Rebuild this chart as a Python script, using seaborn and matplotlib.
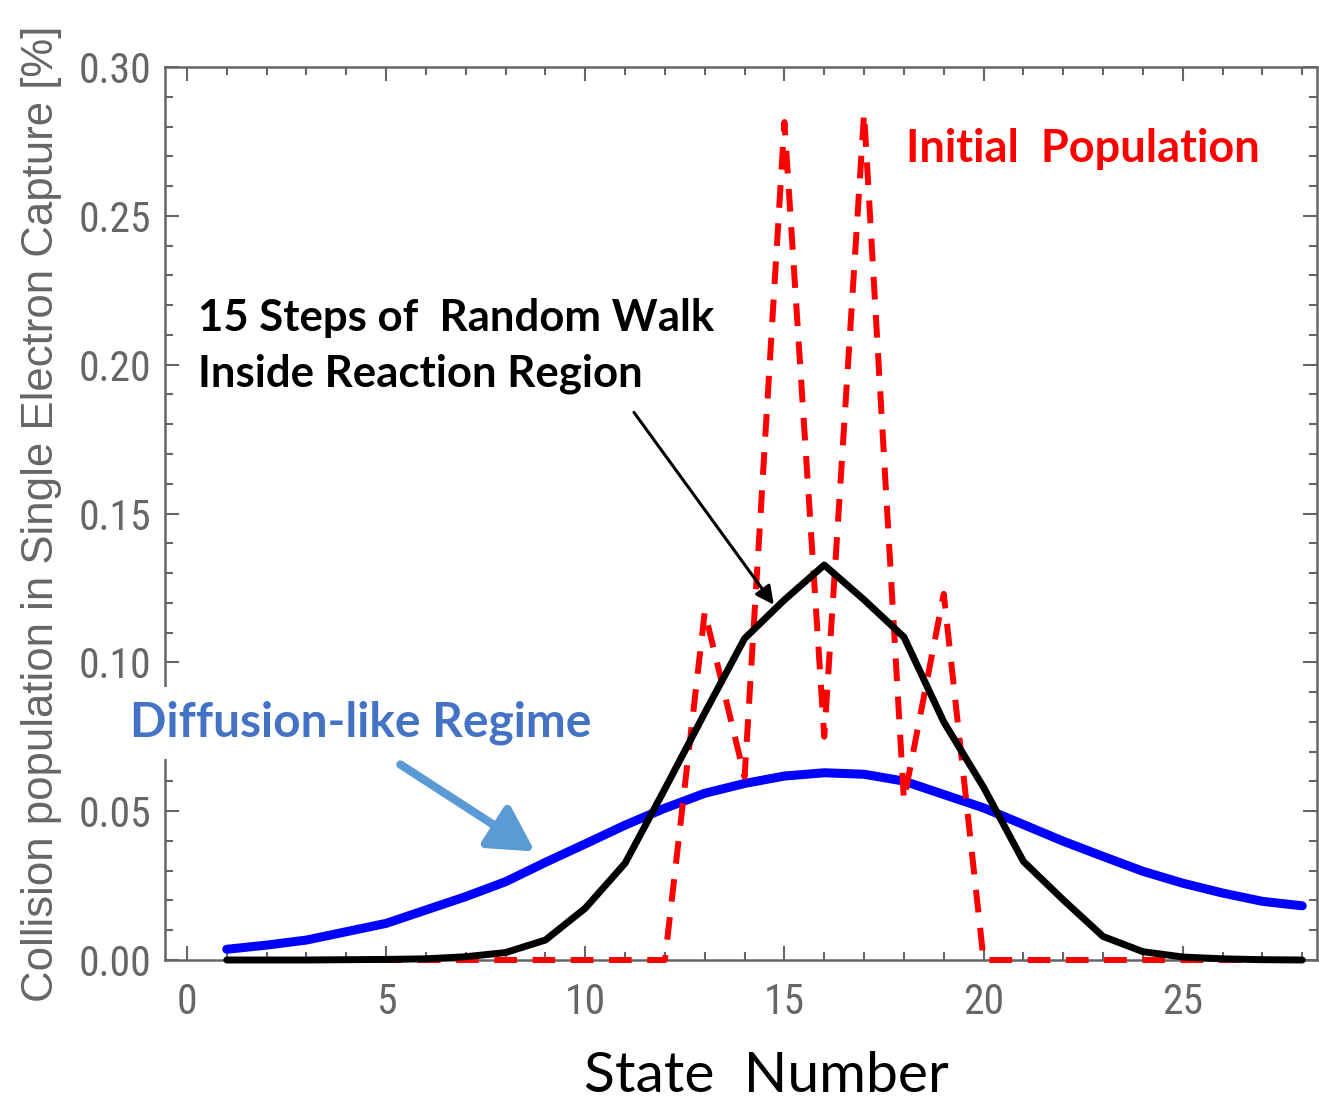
import numpy as np
import pandas as pd
import seaborn as sns
import matplotlib
matplotlib.use("Agg")
import matplotlib.pyplot as plt
from matplotlib import font_manager
from matplotlib.ticker import MultipleLocator

# ---------------- data ----------------
states = list(range(1, 29))
random_walk = [0.0, 0.0, 0.0, 0.0001, 0.0002, 0.0004, 0.0011, 0.0025, 0.0067, 0.0174,
               0.0325, 0.0575, 0.083, 0.108, 0.121, 0.1327, 0.121, 0.1085, 0.080, 0.058,
               0.0331, 0.0202, 0.0079, 0.0028, 0.001, 0.0004, 0.0001, 0.0]
initial_pop = [0, 0, 0, 0, 0, 0, 0, 0, 0, 0,
               0, 0, 0.117, 0.0615, 0.2815, 0.075, 0.2845, 0.0537, 0.123, 0,
               0, 0, 0, 0, 0, 0, 0, 0]
diffusion = [0.0036, 0.005, 0.0067, 0.0095, 0.0123, 0.0168, 0.0213, 0.0263, 0.0328, 0.039,
             0.0453, 0.051, 0.056, 0.0593, 0.0618, 0.0629, 0.0624, 0.0601, 0.0556, 0.0511,
             0.0455, 0.0399, 0.0348, 0.0298, 0.0258, 0.0225, 0.0197, 0.0182]
x_ticks = [0, 5, 10, 15, 20, 25]
y_ticks = [0.00, 0.05, 0.10, 0.15, 0.20, 0.25, 0.30]

df = pd.DataFrame({"state": states, "walk": random_walk,
                   "initial": initial_pop, "diff": diffusion})

# ---------------- style ----------------
sns.set_style("ticks")
names = {f.name for f in font_manager.fontManager.ttflist}
tick_font = "Liberation Sans"
for cand in ["Liberation Sans Narrow", "DejaVu Sans Condensed", "Roboto Condensed",
             "Open Sans Condensed"]:
    if cand in names:
        tick_font = cand
        break
plt.rcParams["font.family"] = ["Liberation Sans", "DejaVu Sans"]
gray = "#666666"

W, H = 1319, 1103
fig = plt.figure(figsize=(W / 100, H / 100), dpi=100)
L, R, T, B = 165, 1317, 67, 960
ax = fig.add_axes([L / W, 1 - B / H, (R - L) / W, (B - T) / H])

sns.lineplot(data=df, x="state", y="diff", ax=ax, color="#0000ff", lw=6.5,
             zorder=2, clip_on=False)
sns.lineplot(data=df, x="state", y="initial", ax=ax, color="#ff0000", lw=4.3,
             dashes=False, zorder=3, clip_on=False)
ax.lines[-1].set_linestyle((0, (3.8, 2.6)))
sns.lineplot(data=df, x="state", y="walk", ax=ax, color="black", lw=5.0,
             zorder=4, clip_on=False)

ax.set_xlim(-0.55, 28.37)
ax.set_ylim(0, 0.30)
ax.set_xticks(x_ticks)
ax.set_yticks(y_ticks)
ax.set_yticklabels([f"{v:.2f}" for v in y_ticks])
ax.xaxis.set_minor_locator(MultipleLocator(1))
ax.yaxis.set_minor_locator(MultipleLocator(0.01))
ax.tick_params(which="both", direction="in", top=True, right=True, color=gray,
               width=1.5, labelcolor=gray, labelsize=30)
ax.tick_params(axis="x", pad=16)
ax.tick_params(axis="y", pad=10)
ax.tick_params(which="major", length=10)
ax.tick_params(which="minor", length=6)
for lab in ax.get_xticklabels() + ax.get_yticklabels():
    lab.set_fontfamily(tick_font)
    if tick_font == "Liberation Sans":
        lab.set_fontstretch("condensed")
for s in ax.spines.values():
    s.set_color(gray)
    s.set_linewidth(1.8)

ax.set_xlabel("State  Number", fontsize=41, color="black", family="Lato", va="center")
ax.xaxis.set_label_coords(0.522, -0.13)
ax.set_ylabel("Collision population in Single Electron Capture [%]", fontsize=31.5,
              color=gray, labelpad=12)


def px2data(px, py):
    return ((px - 187) / 39.8, (960 - py) / 2977.0)


# annotations
ax.text(*px2data(198, 318), "15 Steps of  Random Walk", fontsize=31.5, weight="bold",
        family="Lato", color="black", va="center", ha="left", zorder=6)
ax.text(*px2data(198, 374), "Inside Reaction Region", fontsize=31.5, weight="bold",
        family="Lato", color="black", va="center", ha="left", zorder=6)
ax.text(*px2data(905, 149), "Initial  Population", fontsize=32.5, weight="bold",
        family="Lato", color="#ff0000", va="center", ha="left", zorder=6)
ax.text(*px2data(130, 723), "Diffusion-like Regime", fontsize=34.5, weight="bold",
        family="Lato", color="#4472C4", va="center", ha="left", zorder=6, clip_on=False,
        bbox=dict(facecolor="white", edgecolor="none", pad=10))

ax.annotate("", xy=px2data(775, 607), xytext=px2data(632, 410),
            arrowprops=dict(arrowstyle="-|>,head_length=0.5,head_width=0.25",
                            color="black", lw=2.2, mutation_scale=22), zorder=6)
ax.annotate("", xy=px2data(537, 853), xytext=px2data(398, 763),
            arrowprops=dict(arrowstyle="-|>,head_length=0.9,head_width=0.5",
                            color="#5B9BD5", lw=6, mutation_scale=30), zorder=6)

fig.savefig("out.png", dpi=100)
